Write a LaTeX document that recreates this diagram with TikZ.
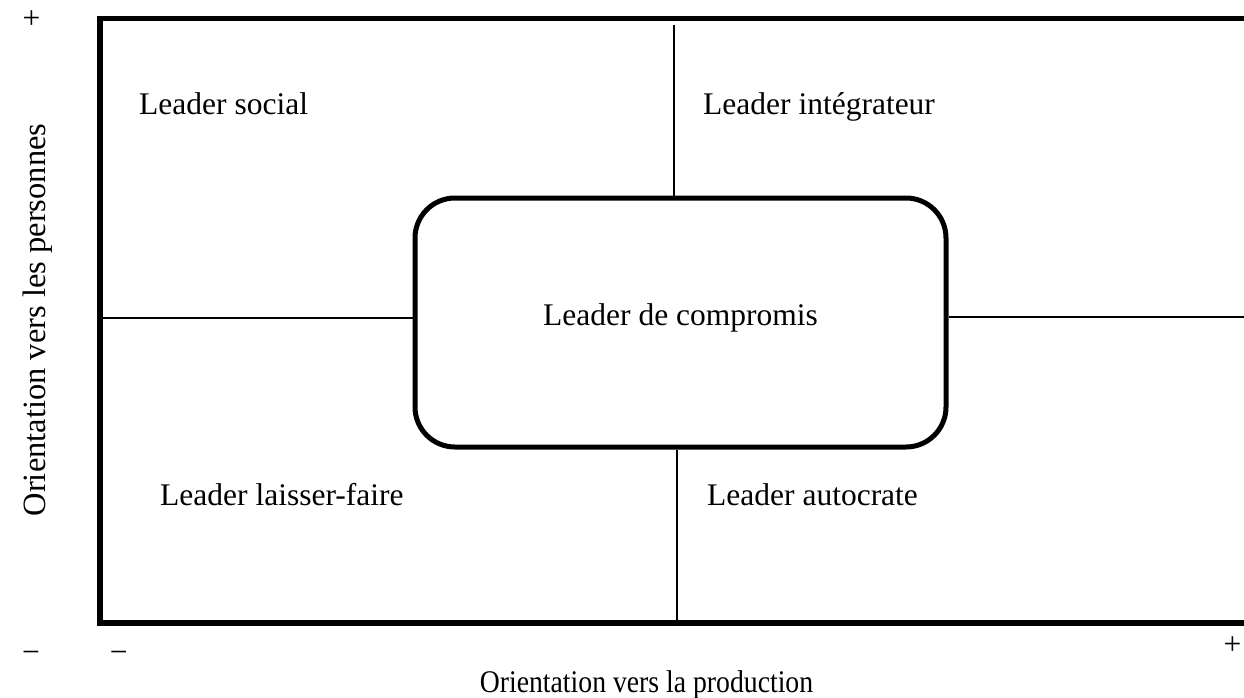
\documentclass[tikz,border=0pt]{standalone}
\usepackage{fontspec}
\setmainfont{Liberation Serif}
\begin{document}
\begin{tikzpicture}[x=1pt,y=-1pt,
  lbl/.style={inner sep=0pt, anchor=base west, font=\fontsize{31.5}{38}\selectfont},
  sgn/.style={inner sep=0pt, font=\fontsize{31.5}{38}\selectfont},
  frameline/.style={line width=5.5pt, line join=miter},
  divline/.style={line width=2.3pt},
  compbox/.style={draw, line width=5pt, rounded corners=40pt, minimum width=531pt, minimum height=249pt, inner sep=0pt}
]
\useasboundingbox (0,0) rectangle (1244,698);
\begin{scope}
\clip (0,0) rectangle (1244,698);
\draw[frameline] (1260,18.3) -- (100,18.3) -- (100,623) -- (1260,623);
\node[compbox] (comp) at (680.5,322.5) {};
\coordinate (tt) at (674,25);
\coordinate (bb) at (677,620.5);
\coordinate (ll) at (102.5,317.7);
\coordinate (rr) at (1250,317);
\draw[divline] (tt) -- (tt |- comp.north);
\draw[divline] (bb |- comp.south) -- (bb);
\draw[divline] (ll) -- (comp.west |- ll);
\draw[divline] (comp.east |- rr) -- (rr);
\end{scope}
\node[lbl, anchor=base] (comptxt) at (680.5,325) {Leader de compromis};
\node[lbl] (soc) at (139,115) {Leader social};
\node[lbl] (int) at (703,115) {Leader intégrateur};
\node[lbl] (lf) at (160,505) {Leader laisser-faire};
\node[lbl] (aut) at (707,505) {Leader autocrate};
\node[sgn, rotate=90, anchor=base, font=\fontsize{32.5}{39}\selectfont] (ylab) at (45,320) {Orientation vers les personnes};
\node[sgn, anchor=base] (xlab) at (646.5,692) {\scalebox{0.88}[1]{Orientation vers la production}};
\node[sgn] (p1) at (31.5,19.5) {+};
\node[sgn] (m1) at (31,657.3) {−};
\node[sgn] (m2) at (118.7,657.3) {−};
\node[sgn] (p2) at (1232.5,646) {+};
\end{tikzpicture}
\end{document}
